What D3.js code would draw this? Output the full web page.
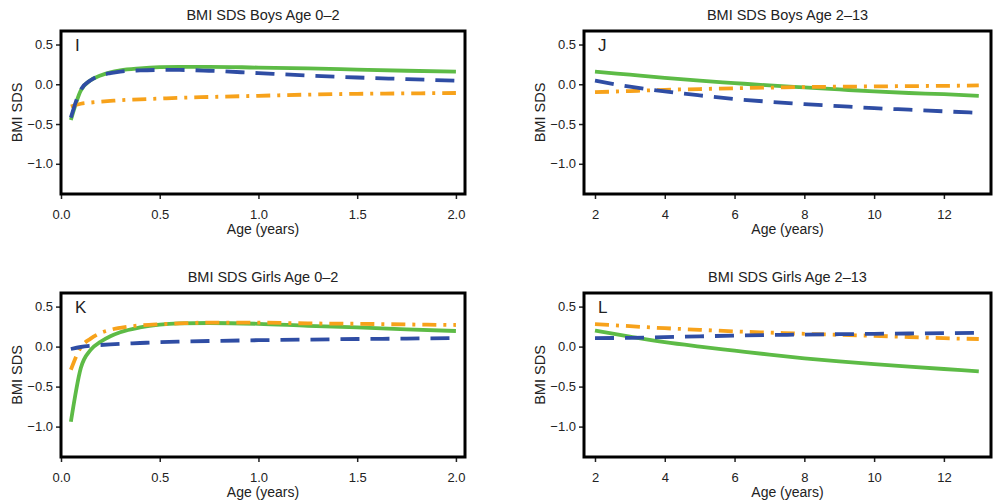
<!DOCTYPE html>
<html>
<head>
<meta charset="utf-8">
<script src="https://cdn.jsdelivr.net/npm/d3@7"></script>
<style>
  body { margin: 0; background: #fff; }
  text { font-family: "Liberation Sans", Arial, sans-serif; fill: #222; }
</style>
</head>
<body>
<div id="chart"></div>
<script>
// ages (years) on the x axis
const ageInfant = [0.05, 0.1, 0.15, 0.2, 0.25, 0.3, 0.4, 0.5, 0.6, 0.75, 1.0, 1.25, 1.5, 1.75, 2.0];
const ageChild = [2, 3, 4, 5, 6, 7, 8, 9, 10, 11, 12, 13];

// I: boys 0-2
const boysInfantGreen  = [-0.45, -0.08, 0.05, 0.11, 0.15, 0.175, 0.2, 0.215, 0.22, 0.22, 0.21, 0.2, 0.185, 0.17, 0.16];
const boysInfantBlue   = [-0.42, -0.07, 0.05, 0.11, 0.14, 0.16, 0.175, 0.18, 0.18, 0.17, 0.14, 0.11, 0.085, 0.065, 0.045];
const boysInfantOrange = [-0.28, -0.245, -0.23, -0.22, -0.21, -0.2, -0.19, -0.18, -0.17, -0.16, -0.145, -0.13, -0.12, -0.115, -0.11];

// J: boys 2-13
const boysChildGreen  = [0.16, 0.12, 0.08, 0.045, 0.015, -0.015, -0.04, -0.065, -0.09, -0.11, -0.125, -0.145];
const boysChildBlue   = [0.045, -0.03, -0.09, -0.14, -0.185, -0.22, -0.25, -0.275, -0.3, -0.32, -0.34, -0.36];
const boysChildOrange = [-0.1, -0.085, -0.07, -0.06, -0.05, -0.042, -0.035, -0.03, -0.027, -0.023, -0.02, -0.015];

// K: girls 0-2
const girlsInfantGreen  = [-0.94, -0.27, -0.04, 0.06, 0.13, 0.18, 0.24, 0.275, 0.29, 0.295, 0.285, 0.26, 0.24, 0.215, 0.195];
const girlsInfantBlue   = [-0.03, -0.005, 0.01, 0.02, 0.028, 0.035, 0.045, 0.055, 0.062, 0.07, 0.08, 0.088, 0.095, 0.1, 0.108];
const girlsInfantOrange = [-0.29, -0.01, 0.1, 0.17, 0.21, 0.235, 0.265, 0.28, 0.29, 0.3, 0.3, 0.29, 0.285, 0.277, 0.27];

// L: girls 2-13
const girlsChildGreen  = [0.2, 0.125, 0.055, 0.0, -0.05, -0.1, -0.146, -0.185, -0.22, -0.25, -0.28, -0.31];
const girlsChildBlue   = [0.105, 0.11, 0.118, 0.128, 0.138, 0.145, 0.15, 0.155, 0.16, 0.164, 0.168, 0.172];
const girlsChildOrange = [0.28, 0.255, 0.23, 0.21, 0.19, 0.175, 0.16, 0.147, 0.135, 0.12, 0.105, 0.095];

const yTicks = [0.5, 0, -0.5, -1.0];
const xTicksInfant = [0, 0.5, 1.0, 1.5, 2.0];
const xTicksChild = [2, 4, 6, 8, 10, 12];

const titles = ["BMI SDS Boys Age 0\u20132", "BMI SDS Boys Age 2\u201313",
                "BMI SDS Girls Age 0\u20132", "BMI SDS Girls Age 2\u201313"];
const letters = ["I", "J", "K", "L"];

const width = 995, height = 501;
const green = "#5dbb46", blue = "#2f4da4", orange = "#f7a21b";

const panels = [
  {col: 0, row: 0, ages: ageInfant, ticks: xTicksInfant, g: boysInfantGreen,  b: boysInfantBlue,  o: boysInfantOrange},
  {col: 1, row: 0, ages: ageChild,  ticks: xTicksChild,  g: boysChildGreen,   b: boysChildBlue,   o: boysChildOrange},
  {col: 0, row: 1, ages: ageInfant, ticks: xTicksInfant, g: girlsInfantGreen, b: girlsInfantBlue, o: girlsInfantOrange},
  {col: 1, row: 1, ages: ageChild,  ticks: xTicksChild,  g: girlsChildGreen,  b: girlsChildBlue,  o: girlsChildOrange}
];

const boxX = [[61, 465], [584, 991]];
const boxY = [[31, 194], [293, 457]];
const xDomains = [[0, 2.046], [1.685, 13.35]];

const svg = d3.select("#chart")
              .append("svg")
              .attr("width", width)
              .attr("height", height);

panels.forEach((p, i) => {
    const [x0, x1] = boxX[p.col];
    const [y0, y1] = boxY[p.row];

    const x = d3.scaleLinear().domain(xDomains[p.col]).range([x0, x1]);
    const y = d3.scaleLinear().domain([-1.38, 0.67]).range([y1, y0]);

    const g = svg.append("g");

    g.append("g")
     .attr("transform", `translate(${x0 - 1},0)`)
     .call(d3.axisLeft(y).tickValues(yTicks).tickSize(4).tickPadding(3)
             .tickFormat(d => d3.format(".1f")(d).replace("-", "\u2212")))
     .call(a => a.select(".domain").remove())
     .call(a => a.selectAll("line").attr("stroke", "#222").attr("stroke-width", 1.5))
     .call(a => a.selectAll("text").style("font-size", "13px").attr("fill", "#222"));

    g.append("g")
     .attr("transform", `translate(0,${y1 + 1})`)
     .call(d3.axisBottom(x).tickValues(p.ticks).tickSize(4).tickPadding(11)
             .tickFormat(p.col === 0 ? d3.format(".1f") : d3.format("d")))
     .call(a => a.select(".domain").remove())
     .call(a => a.selectAll("line").attr("stroke", "#222").attr("stroke-width", 1.5))
     .call(a => a.selectAll("text").style("font-size", "13px").attr("fill", "#222"));

    const line = vals => d3.line()
        .x((d, k) => x(p.ages[k]))
        .y(d => y(d))
        .curve(d3.curveMonotoneX)(vals);

    g.append("path").attr("d", line(p.g))
     .attr("fill", "none").attr("stroke", green).attr("stroke-width", 3.8);
    g.append("path").attr("d", line(p.o))
     .attr("fill", "none").attr("stroke", orange).attr("stroke-width", 3.8)
     .attr("stroke-dasharray", "14,7,3,7");
    g.append("path").attr("d", line(p.b))
     .attr("fill", "none").attr("stroke", blue).attr("stroke-width", 3.8)
     .attr("stroke-dasharray", "19,11");

    g.append("rect")
     .attr("x", x0).attr("y", y0)
     .attr("width", x1 - x0).attr("height", y1 - y0)
     .attr("fill", "none").attr("stroke", "#000").attr("stroke-width", 3);

    g.append("text")
     .attr("x", x0 + 14).attr("y", y0 + 20)
     .style("font-size", "17px")
     .text(letters[i]);

    g.append("text")
     .attr("x", (x0 + x1) / 2).attr("y", y0 - 11)
     .attr("text-anchor", "middle")
     .style("font-size", "14.5px")
     .text(titles[i]);

    g.append("text")
     .attr("x", (x0 + x1) / 2).attr("y", y1 + 40)
     .attr("text-anchor", "middle")
     .style("font-size", "14px")
     .text("Age (years)");

    g.append("text")
     .attr("transform", `translate(${x0 - 39},${(y0 + y1) / 2}) rotate(-90)`)
     .attr("text-anchor", "middle")
     .style("font-size", "14.5px")
     .text("BMI SDS");
});
</script>
</body>
</html>
